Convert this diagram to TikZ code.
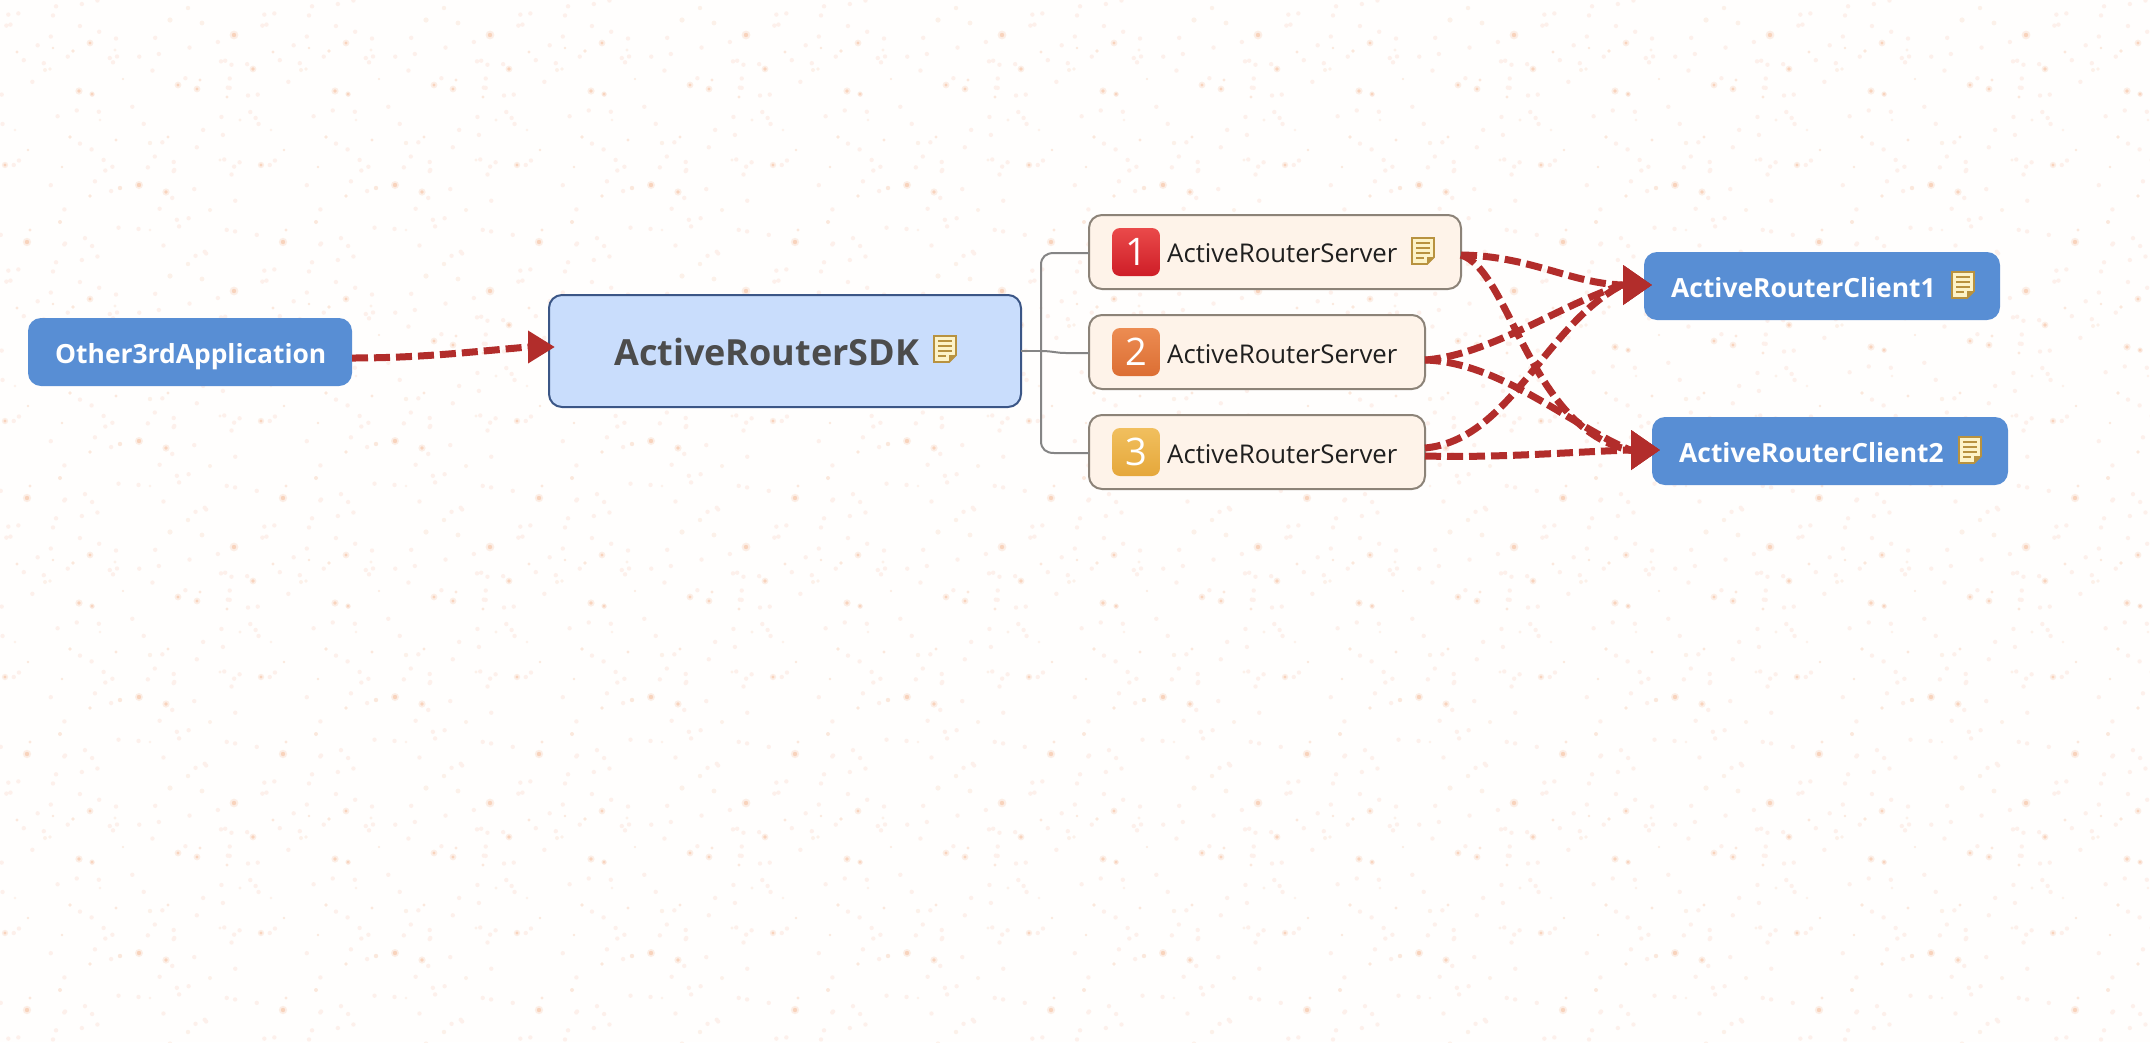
\documentclass[tikz,border=0pt]{standalone}
\usepackage{fontspec}
\setmainfont{Open Sans}
\usetikzlibrary{arrows.meta}
\definecolor{paper}{HTML}{FFFEFD}
\definecolor{speck}{HTML}{F8D3BC}
\definecolor{haze}{HTML}{FCDCD2}
\definecolor{blueN}{HTML}{588ED4}
\definecolor{sdkF}{HTML}{C9DDFC}
\definecolor{sdkB}{HTML}{3B5686}
\definecolor{srvF}{HTML}{FEF3E9}
\definecolor{srvB}{HTML}{8C8378}
\definecolor{arrowR}{HTML}{B22D2B}
\definecolor{treeG}{HTML}{858585}
\definecolor{noteF}{HTML}{FDF3C8}
\definecolor{noteB}{HTML}{B8923F}
\definecolor{bOneT}{HTML}{EA4A4A}
\definecolor{bOneB}{HTML}{CE1D27}
\definecolor{bTwoT}{HTML}{EC8C52}
\definecolor{bTwoB}{HTML}{DC6E33}
\definecolor{bThrT}{HTML}{F1BF5E}
\definecolor{bThrB}{HTML}{E5A73B}
\tikzset{
 x=1pt,y=-1pt,
 boxbase/.style={rectangle,rounded corners=13pt,anchor=north west,inner sep=0pt,outer sep=0pt},
 bluebox/.style={boxbase,fill=blueN},
 sdkbox/.style={boxbase,fill=sdkF,draw=sdkB,line width=2pt},
 srvbox/.style={boxbase,fill=srvF,draw=srvB,line width=2pt},
 badge/.style={rectangle,rounded corners=8pt,minimum width=48pt,minimum height=48pt,inner sep=0pt,text=white,font=\fontsize{38}{38}\selectfont},
 whitelabel/.style={anchor=base west,inner sep=0pt,text=white,font=\fontsize{26.4}{27}\selectfont\bfseries},
 srvlabel/.style={anchor=base west,inner sep=0pt,text=black!88,font=\fontsize{25.8}{26}\selectfont},
 sdklabel/.style={anchor=base west,inner sep=0pt,text=black!70,font=\fontsize{36}{36}\selectfont\bfseries},
 tree/.style={draw=treeG,line width=2pt},
 rel/.style={draw=arrowR,line width=7pt,dash pattern=on 16pt off 6pt},
 relhead/.style={-{Triangle[length=29pt,width=38pt,fill=arrowR]}},
 note/.pic={
  \draw[noteB,fill=noteF,line width=1.8pt,line join=miter] (-11,-13) -- (11,-13) -- (11,6) -- (4,13) -- (-11,13) -- cycle;
  \fill[noteB] (11,6) -- (4,6) -- (4,13) -- cycle;
  \foreach \yy in {-8,-3,2}{\draw[noteB,line width=1.6pt] (-7,\yy) -- (7,\yy);}
  \draw[noteB,line width=1.6pt] (-7,7) -- (1,7);
 }
}
\begin{document}
\begin{tikzpicture}
\useasboundingbox (0,0) rectangle (2150,1042);
\fill[paper] (0,0) rectangle (2150,1042);
\begin{scope}
\clip (0,0) rectangle (2150,1042);
\foreach \tx in {0,...,8}{
 \foreach \ty in {0,...,4}{
  \begin{scope}[shift={(256*\tx,256*\ty)}]
   \pgfmathsetseed{4711}
   \fill[haze,opacity=.4] \foreach \n in {1,...,90}{ (rnd*256,rnd*256) circle (2.2) };
   \fill[speck,opacity=.35] \foreach \px/\py/\pr in {90/43/3.4,79/91/3.6,92/94/2.6,234/35/4.4,253/69/3.4,197/89/3.4,178/85/3.4,139/185/4,166/192/3.6,5/165/3.2,27/242/4.2}{(\px,\py) circle (\pr)};
   \fill[speck] \foreach \px/\py/\pr in {90/43/1.7,79/91/1.9,92/94/1.3,234/35/2.2,253/69/1.8,197/89/1.7,178/85/1.6,139/185/2.2,166/192/1.9,5/165/1.6,27/242/2.2}{(\px,\py) circle (\pr)};
   \fill[speck,opacity=.5] \foreach \px/\py/\pr in {73/51/1.8,17/52/1.6,53/48/1.4,200/80/1.6,227/97/1.6,123/79/1.2,90/196/1.8,62/167/1.4,30/230/1.6,60/222/2,70/137/1.8,116/140/1.6,168/137/1.6,28/150/1.4,120/188/2.2}{(\px,\py) circle (\pr)};
   \fill[speck,opacity=.3] \foreach \px/\py/\pr in {170/20/2.6,202/23/2.4,188/8/2.2,150/143/2.2,45/70/2,50/69/1.8,115/50/1.6,15/130/1.4,220/160/1.6,210/210/2,100/120/1.4,240/120/1.6,150/230/1.4}{(\px,\py) circle (\pr)};
  \end{scope}
 }
}
\end{scope}

% nodes
\node[bluebox,minimum width=324pt,minimum height=68pt] (other) at (28,318) {};
\node[sdkbox,minimum width=472pt,minimum height=112pt] (sdk) at (549,295) {};
\node[srvbox,minimum width=372pt,minimum height=74pt] (s1) at (1089,215) {};
\node[srvbox,minimum width=336pt,minimum height=74pt] (s2) at (1089,315) {};
\node[srvbox,minimum width=336pt,minimum height=74pt] (s3) at (1089,415) {};
\node[bluebox,minimum width=356pt,minimum height=68pt] (c1) at (1644,252) {};
\node[bluebox,minimum width=356pt,minimum height=68pt] (c2) at (1652,417) {};

% labels
\node[whitelabel] (otherT) at (55,363) {Other3rdApplication};
\node[sdklabel] (sdkT) at (614,365) {ActiveRouterSDK};
\node[srvlabel] (s1T) at (1167,262) {ActiveRouterServer};
\node[srvlabel] (s2T) at (1167,363) {ActiveRouterServer};
\node[srvlabel] (s3T) at (1167,463) {ActiveRouterServer};
\node[whitelabel] (c1T) at (1671,297) {ActiveRouterClient1};
\node[whitelabel] (c2T) at (1679,462) {ActiveRouterClient2};

% badges
\node[badge,top color=bOneT,bottom color=bOneB] (b1) at (1136,252) {1};
\node[badge,top color=bTwoT,bottom color=bTwoB] (b2) at (1136,352) {2};
\node[badge,top color=bThrT,bottom color=bThrB] (b3) at (1136,452) {3};

% note icons
\pic at (945,349) {note};
\pic at (1423,251) {note};
\pic at (1963,285) {note};
\pic at (1970,450) {note};

% tree connectors
\coordinate (spine) at (1041,351);
\draw[tree] (sdk.east) -- (spine);
\draw[tree] (spine) -- (1041,265) .. controls (1041,257) and (1046,253) .. (1054,253) -- ([yshift=-1pt]s1.west);
\draw[tree] (spine) .. controls (1052,351) and (1056,353) .. (1066,353) -- ([yshift=-1pt]s2.west);
\draw[tree] (spine) -- (1041,441) .. controls (1041,449) and (1046,453) .. (1054,453) -- ([yshift=-1pt]s3.west);

% relationships
\coordinate (tipS) at (555,347);
\coordinate (tipA) at (1652,285);
\coordinate (tipB) at (1660,450);
\coordinate (a1) at (1622,285);
\coordinate (a2) at (1630,450);
\coordinate (o1) at (352,358);
\coordinate (f1) at (1461,255);
\coordinate (f2) at (1425,360);
\coordinate (f3) at (1425,448);
\coordinate (f4) at (1425,456);

\path[rel,-{Triangle[length=27pt,width=31pt,fill=arrowR]}] (o1) .. controls (420,358) and (470,352) .. (528,347) -- (tipS);
\path[rel,relhead] (f1) .. controls (1530,256) and (1570,283) .. (a1) -- (tipA);
\path[rel,relhead] (f2) .. controls (1490,355) and (1560,305) .. (a1) -- (tipA);
\path[rel,relhead] (f3) .. controls (1510,440) and (1545,325) .. (a1) -- (tipA);
\path[rel,relhead] (f1) .. controls (1510,270) and (1530,430) .. (a2) -- (tipB);
\path[rel,relhead] (f2) .. controls (1500,362) and (1570,425) .. (a2) -- (tipB);
\path[rel,relhead] (f4) .. controls (1500,458) and (1570,452) .. (a2) -- (tipB);
\end{tikzpicture}
\end{document}
